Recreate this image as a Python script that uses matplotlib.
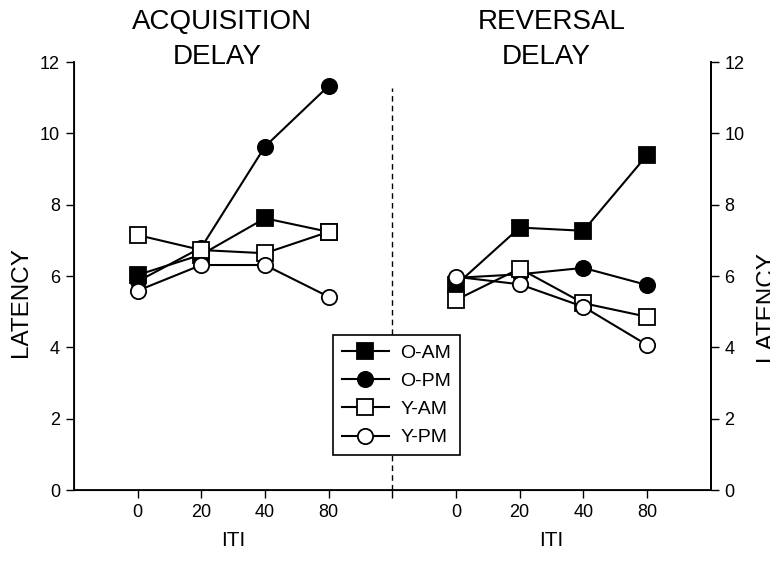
import matplotlib.pyplot as plt
import matplotlib.transforms as mtransforms

plt.rcParams['font.family'] = ['Liberation Sans', 'DejaVu Sans']

# ITI conditions (shared by both phases)
iti_labels = ['0', '20', '40', '80']
title_top = ['ACQUISITION', 'REVERSAL']
title_bottom = ['DELAY', 'DELAY']

# latency values per group, [acquisition, reversal]
series_names = ['O-AM', 'O-PM', 'Y-AM', 'Y-PM']
o_am = [[6.03, 6.6, 7.62, 7.24], [5.75, 7.36, 7.27, 9.39]]
o_pm = [[5.85, 6.8, 9.63, 11.33], [5.95, 6.05, 6.23, 5.75]]
y_am = [[7.15, 6.73, 6.64, 7.24], [5.33, 6.21, 5.24, 4.86]]
y_pm = [[5.59, 6.31, 6.31, 5.42], [5.98, 5.77, 5.14, 4.07]]

styles = [
    dict(marker='s', mfc='black'),
    dict(marker='o', mfc='black'),
    dict(marker='s', mfc='white'),
    dict(marker='o', mfc='white'),
]

fig = plt.figure(figsize=(7.7, 5.64), dpi=100)
ax = fig.add_axes([0.096, 0.131, 0.827, 0.759])

# x positions: acquisition at 1..4, divider at 5, reversal at 6..9
xpos = [[1, 2, 3, 4], [6, 7, 8, 9]]

for data, name, st in zip([o_am, o_pm, y_am, y_pm], series_names, styles):
    for g in range(2):
        ax.plot(xpos[g], data[g], color='black', lw=1.5, ms=11, mec='black',
                mew=1.3, label=name if g == 0 else None, **st)

ax.axvline(5, ymin=0, ymax=0.94, color='black', lw=1, dashes=(4, 3))

ax.set_xlim(0, 10)
ax.set_ylim(0, 12)
ax.set_yticks(range(0, 13, 2))
ax.set_xticks(range(1, 10))
ax.set_xticklabels(iti_labels + [''] + iti_labels)
ax.tick_params(direction='out', length=6, width=1, labelsize=13, pad=4)
ax.spines['top'].set_visible(False)
for s in ['left', 'bottom', 'right']:
    ax.spines[s].set_linewidth(1.3)
ax.set_ylabel('LATENCY', fontsize=17.5)
ax.yaxis.set_label_coords(-0.066, 0.44)

ax2 = ax.twinx()
ax2.set_ylim(0, 12)
ax2.set_yticks(range(0, 13, 2))
ax2.tick_params(direction='out', length=6, width=1, labelsize=13, pad=4)
ax2.spines['top'].set_visible(False)
ax2.spines['right'].set_linewidth(1.3)
ax2.set_ylabel('LATENCY', fontsize=17.5)
ax2.yaxis.set_label_coords(1.069, 0.43)

# group titles and ITI labels
trans = mtransforms.blended_transform_factory(ax.transData, fig.transFigure)
title_x = [2.33, 7.5]
for g in range(2):
    ax.text(title_x[g], 0.961, title_top[g], transform=trans, ha='center',
            va='center', fontsize=20)
    ax.text(title_x[g] - 0.08, 0.899, title_bottom[g], transform=trans,
            ha='center', va='center', fontsize=20)
    cx = (xpos[g][0] + xpos[g][-1]) / 2
    ax.text(cx, 0.042, 'ITI', transform=trans, ha='center', va='center',
            fontsize=15)

leg = ax.legend(loc='upper left', bbox_to_anchor=(0.407, 0.362), fontsize=14,
                frameon=True, fancybox=False, edgecolor='black', framealpha=1,
                handlelength=2.4, handletextpad=0.6, labelspacing=0.55,
                borderpad=0.45, borderaxespad=0, numpoints=1)
leg.get_frame().set_linewidth(1.2)
leg.set_zorder(5)

fig.savefig('out.png', dpi=100)
